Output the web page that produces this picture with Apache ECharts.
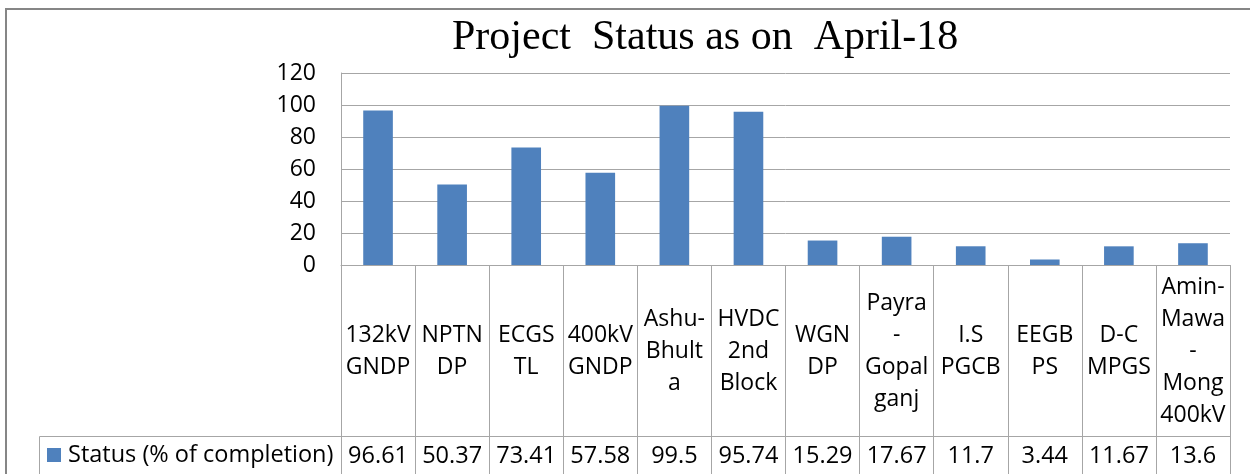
<!DOCTYPE html>
<html>
<head>
<meta charset="utf-8">
<title>Project Status as on April-18</title>
<script src="https://cdn.jsdelivr.net/npm/echarts@6/dist/echarts.min.js"></script>
<style>
	html, body { margin: 0; padding: 0; background: #fff; }
	#chart { width: 1250px; height: 474px; }
</style>
</head>
<body>
<div id="chart"></div>
<script>
// -------------------------
// Project status bar chart with data table
// -------------------------

// Categories (line breaks as in the table header cells)
const projects = [
	'132kV\nGNDP', 'NPTN\nDP', 'ECGS\nTL', '400kV\nGNDP',
	'Ashu-\nBhult\na', 'HVDC\n2nd\nBlock', 'WGN\nDP', 'Payra\n-\nGopal\nganj',
	'I.S\nPGCB', 'EEGB\nPS', 'D-C\nMPGS', 'Amin-\nMawa\n-\nMong\n400kV'
];

// Status (% of completion)
const completion = [96.61, 50.37, 73.41, 57.58, 99.5, 95.74, 15.29, 17.67, 11.7, 3.44, 11.67, 13.6];

const seriesName = 'Status (% of completion)';

// Value axis ticks
const yMin = 0;
const yMax = 120;
const yStep = 20;

// Colors
const barColor = '#4f81bd';
const lineColor = '#a6a6a6';
const frameColor = '#868686';
const fontFamily = "'Open Sans', sans-serif";

const chart = echarts.init(document.getElementById('chart'));

const option = {
	animation: false,
	title: {
		text: 'Project  Status as on  April-18',
		left: 452,
		top: 17,
		padding: 0,
		textStyle: {
			fontFamily: "'Liberation Serif', 'Times New Roman', serif",
			fontSize: 42,
			fontWeight: 'normal',
			color: '#000'
		}
	},
	legend: {
		data: [seriesName],
		left: 47,
		top: 443,
		padding: 0,
		icon: 'rect',
		itemWidth: 14,
		itemHeight: 14,
		itemGap: 0,
		textStyle: { fontFamily: fontFamily, fontSize: 23.5, color: '#000', padding: [0, 0, 0, 2] }
	},
	grid: { left: 341, top: 73, right: 20, bottom: 209, containLabel: false },
	xAxis: [
		{
			type: 'category',
			data: projects,
			axisLine: { show: true, lineStyle: { color: lineColor, width: 1 } },
			axisTick: { show: true, alignWithLabel: false, length: 220, lineStyle: { color: lineColor } },
			axisLabel: {
				interval: 0,
				margin: 86,
				verticalAlign: 'middle',
				fontFamily: fontFamily,
				fontSize: 23,
				lineHeight: 32,
				color: '#000'
			}
		},
		{
			// data table row
			type: 'category',
			position: 'bottom',
			offset: 171,
			data: completion.map(v => String(v)),
			axisLine: { show: true, lineStyle: { color: lineColor, width: 1 } },
			axisTick: { show: false },
			axisLabel: {
				interval: 0,
				margin: 20,
				verticalAlign: 'middle',
				fontFamily: fontFamily,
				fontSize: 23.5,
				color: '#000'
			}
		}
	],
	yAxis: {
		type: 'value',
		min: yMin,
		max: yMax,
		interval: yStep,
		axisLine: { show: true, lineStyle: { color: lineColor, width: 1 } },
		axisTick: { show: false },
		splitLine: { show: true, lineStyle: { color: lineColor, width: 1 } },
		axisLabel: { margin: 25, fontFamily: fontFamily, fontSize: 23, color: '#000' }
	},
	series: [
		{
			name: seriesName,
			type: 'bar',
			xAxisIndex: 0,
			barWidth: '40%',
			itemStyle: { color: barColor },
			data: completion
		}
	],
	graphic: [
		// chart frame
		{
			type: 'rect',
			silent: true,
			z: -1,
			shape: { x: 6, y: 9, width: 1270, height: 500 },
			style: { fill: 'none', stroke: frameColor, lineWidth: 2 }
		},
		// left part of the data table row
		{
			type: 'polyline',
			silent: true,
			shape: { points: [[39.5, 480], [39.5, 436.5], [341, 436.5]] },
			style: { fill: 'none', stroke: lineColor, lineWidth: 1 }
		}
	]
};

chart.setOption(option);
</script>
</body>
</html>
